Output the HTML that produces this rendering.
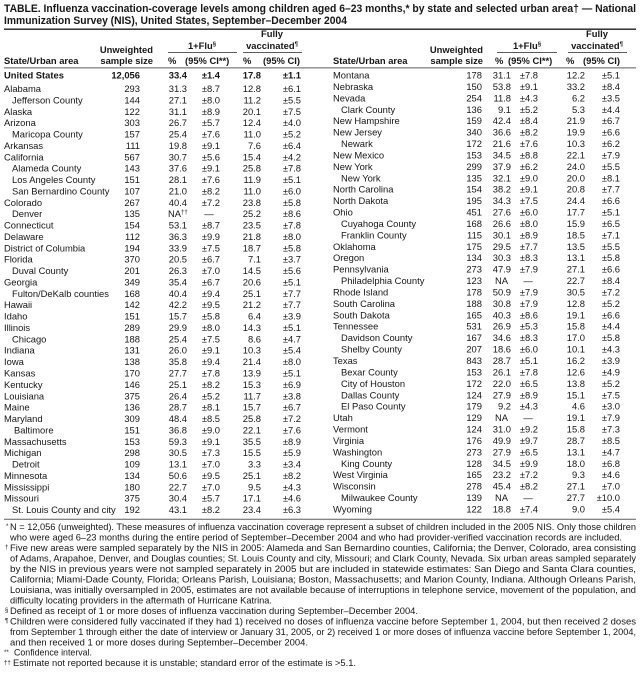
<!DOCTYPE html>
<html><head><meta charset="utf-8"><style>
html,body{margin:0;padding:0;background:#fff}
svg{display:block}
text{font-family:"Liberation Sans",Arial,sans-serif;font-size:9.4px;fill:#161616}
.e{text-anchor:end}.m{text-anchor:middle}
.b{font-weight:bold}
.h{font-weight:bold;font-size:9.4px}
.t{font-weight:bold;font-size:10.6px}
.f{font-size:9.3px}
.s{font-size:6px}
</style></head><body>
<svg width="640" height="674" viewBox="0 0 640 674" xmlns="http://www.w3.org/2000/svg">
<text class="t" x="4" y="12" textLength="632" lengthAdjust="spacingAndGlyphs">TABLE. Influenza vaccination-coverage levels among children aged 6–23 months,* by state and selected urban area† — National</text>
<text class="t" x="4" y="24" textLength="343" lengthAdjust="spacingAndGlyphs">Immunization Survey (NIS), United States, September–December 2004</text>
<rect x="4" y="28.5" width="632" height="1.4" fill="#222"/>

<text class="h m" x="272" y="37">Fully</text>
<text class="h m" x="272" y="49">vaccinated<tspan class="s" dy="-3">¶</tspan></text>
<text class="h m" x="202" y="49">1+Flu<tspan class="s" dy="-3">§</tspan></text>
<rect x="168" y="52" width="69" height="0.8" fill="#333"/>
<rect x="243" y="52" width="59" height="0.8" fill="#333"/>
<text class="h e" x="153" y="53">Unweighted</text>
<text class="h e" x="153" y="64">sample size</text>
<text class="h" x="4" y="64">State/Urban area</text>
<text class="h" x="168" y="64">%</text>
<text class="h" x="185" y="64">(95% CI**)</text>
<text class="h" x="243" y="64">%</text>
<text class="h" x="263" y="64">(95% CI)</text>
<text class="h m" x="597" y="37">Fully</text>
<text class="h m" x="597" y="49">vaccinated<tspan class="s" dy="-3">¶</tspan></text>
<text class="h m" x="527" y="49">1+Flu<tspan class="s" dy="-3">§</tspan></text>
<rect x="497" y="52" width="60" height="0.8" fill="#333"/>
<rect x="568" y="52" width="59" height="0.8" fill="#333"/>
<text class="h e" x="483" y="53">Unweighted</text>
<text class="h e" x="483" y="64">sample size</text>
<text class="h" x="333" y="64">State/Urban area</text>
<text class="h" x="495" y="64">%</text>
<text class="h" x="508" y="64">(95% CI**)</text>
<text class="h" x="566" y="64">%</text>
<text class="h" x="583" y="64">(95% CI)</text>
<rect x="4" y="67.5" width="632" height="0.8" fill="#333"/>

<g class="b"><text class="b" x="4" y="78.5">United States</text><text class="b e" x="140" y="78.5">12,056</text><text class="b e" x="187" y="78.5">33.4</text><text class="b e" x="220" y="78.5">±1.4</text><text class="b e" x="261" y="78.5">17.8</text><text class="b e" x="301" y="78.5">±1.1</text></g>
<g transform="translate(0,92)"><text x="4">Alabama</text><text class="e" x="140">293</text><text class="e" x="187">31.3</text><text class="e" x="220">±8.7</text><text class="e" x="261">12.8</text><text class="e" x="301">±6.1</text></g>
<g transform="translate(0,103.4)"><text x="12">Jefferson County</text><text class="e" x="140">144</text><text class="e" x="187">27.1</text><text class="e" x="220">±8.0</text><text class="e" x="261">11.2</text><text class="e" x="301">±5.5</text></g>
<g transform="translate(0,114.8)"><text x="4">Alaska</text><text class="e" x="140">122</text><text class="e" x="187">31.1</text><text class="e" x="220">±8.9</text><text class="e" x="261">20.1</text><text class="e" x="301">±7.5</text></g>
<g transform="translate(0,126.1)"><text x="4">Arizona</text><text class="e" x="140">303</text><text class="e" x="187">26.7</text><text class="e" x="220">±5.7</text><text class="e" x="261">12.4</text><text class="e" x="301">±4.0</text></g>
<g transform="translate(0,137.5)"><text x="12">Maricopa County</text><text class="e" x="140">157</text><text class="e" x="187">25.4</text><text class="e" x="220">±7.6</text><text class="e" x="261">11.0</text><text class="e" x="301">±5.2</text></g>
<g transform="translate(0,148.9)"><text x="4">Arkansas</text><text class="e" x="140">111</text><text class="e" x="187">19.8</text><text class="e" x="220">±9.1</text><text class="e" x="261">7.6</text><text class="e" x="301">±6.4</text></g>
<g transform="translate(0,160.3)"><text x="4">California</text><text class="e" x="140">567</text><text class="e" x="187">30.7</text><text class="e" x="220">±5.6</text><text class="e" x="261">15.4</text><text class="e" x="301">±4.2</text></g>
<g transform="translate(0,171.7)"><text x="12">Alameda County</text><text class="e" x="140">143</text><text class="e" x="187">37.6</text><text class="e" x="220">±9.1</text><text class="e" x="261">25.8</text><text class="e" x="301">±7.8</text></g>
<g transform="translate(0,183.0)"><text x="12">Los Angeles County</text><text class="e" x="140">151</text><text class="e" x="187">28.1</text><text class="e" x="220">±7.6</text><text class="e" x="261">11.9</text><text class="e" x="301">±5.1</text></g>
<g transform="translate(0,194.4)"><text x="12">San Bernardino County</text><text class="e" x="140">107</text><text class="e" x="187">21.0</text><text class="e" x="220">±8.2</text><text class="e" x="261">11.0</text><text class="e" x="301">±6.0</text></g>
<g transform="translate(0,205.8)"><text x="4">Colorado</text><text class="e" x="140">267</text><text class="e" x="187">40.4</text><text class="e" x="220">±7.2</text><text class="e" x="261">23.8</text><text class="e" x="301">±5.8</text></g>
<g transform="translate(0,217.2)"><text x="12">Denver</text><text class="e" x="140">135</text><text x="168">NA<tspan class="s" dy="-3">††</tspan></text><text class="m" x="209">—</text><text class="e" x="261">25.2</text><text class="e" x="301">±8.6</text></g>
<g transform="translate(0,228.6)"><text x="4">Connecticut</text><text class="e" x="140">154</text><text class="e" x="187">53.1</text><text class="e" x="220">±8.7</text><text class="e" x="261">23.5</text><text class="e" x="301">±7.8</text></g>
<g transform="translate(0,239.9)"><text x="4">Delaware</text><text class="e" x="140">112</text><text class="e" x="187">36.3</text><text class="e" x="220">±9.9</text><text class="e" x="261">21.8</text><text class="e" x="301">±8.0</text></g>
<g transform="translate(0,251.3)"><text x="4">District of Columbia</text><text class="e" x="140">194</text><text class="e" x="187">33.9</text><text class="e" x="220">±7.5</text><text class="e" x="261">18.7</text><text class="e" x="301">±5.8</text></g>
<g transform="translate(0,262.7)"><text x="4">Florida</text><text class="e" x="140">370</text><text class="e" x="187">20.5</text><text class="e" x="220">±6.7</text><text class="e" x="261">7.1</text><text class="e" x="301">±3.7</text></g>
<g transform="translate(0,274.1)"><text x="12">Duval County</text><text class="e" x="140">201</text><text class="e" x="187">26.3</text><text class="e" x="220">±7.0</text><text class="e" x="261">14.5</text><text class="e" x="301">±5.6</text></g>
<g transform="translate(0,285.5)"><text x="4">Georgia</text><text class="e" x="140">349</text><text class="e" x="187">35.4</text><text class="e" x="220">±6.7</text><text class="e" x="261">20.6</text><text class="e" x="301">±5.1</text></g>
<g transform="translate(0,296.8)"><text x="12">Fulton/DeKalb counties</text><text class="e" x="140">168</text><text class="e" x="187">40.4</text><text class="e" x="220">±9.4</text><text class="e" x="261">25.1</text><text class="e" x="301">±7.7</text></g>
<g transform="translate(0,308.2)"><text x="4">Hawaii</text><text class="e" x="140">142</text><text class="e" x="187">42.2</text><text class="e" x="220">±9.5</text><text class="e" x="261">21.2</text><text class="e" x="301">±7.7</text></g>
<g transform="translate(0,319.6)"><text x="4">Idaho</text><text class="e" x="140">151</text><text class="e" x="187">15.7</text><text class="e" x="220">±5.8</text><text class="e" x="261">6.4</text><text class="e" x="301">±3.9</text></g>
<g transform="translate(0,331.0)"><text x="4">Illinois</text><text class="e" x="140">289</text><text class="e" x="187">29.9</text><text class="e" x="220">±8.0</text><text class="e" x="261">14.3</text><text class="e" x="301">±5.1</text></g>
<g transform="translate(0,342.4)"><text x="12">Chicago</text><text class="e" x="140">188</text><text class="e" x="187">25.4</text><text class="e" x="220">±7.5</text><text class="e" x="261">8.6</text><text class="e" x="301">±4.7</text></g>
<g transform="translate(0,353.7)"><text x="4">Indiana</text><text class="e" x="140">131</text><text class="e" x="187">26.0</text><text class="e" x="220">±9.1</text><text class="e" x="261">10.3</text><text class="e" x="301">±5.4</text></g>
<g transform="translate(0,365.1)"><text x="4">Iowa</text><text class="e" x="140">138</text><text class="e" x="187">35.8</text><text class="e" x="220">±9.4</text><text class="e" x="261">21.4</text><text class="e" x="301">±8.0</text></g>
<g transform="translate(0,376.5)"><text x="4">Kansas</text><text class="e" x="140">170</text><text class="e" x="187">27.7</text><text class="e" x="220">±7.8</text><text class="e" x="261">13.9</text><text class="e" x="301">±5.1</text></g>
<g transform="translate(0,387.9)"><text x="4">Kentucky</text><text class="e" x="140">146</text><text class="e" x="187">25.1</text><text class="e" x="220">±8.2</text><text class="e" x="261">15.3</text><text class="e" x="301">±6.9</text></g>
<g transform="translate(0,399.3)"><text x="4">Louisiana</text><text class="e" x="140">375</text><text class="e" x="187">26.4</text><text class="e" x="220">±5.2</text><text class="e" x="261">11.7</text><text class="e" x="301">±3.8</text></g>
<g transform="translate(0,410.6)"><text x="4">Maine</text><text class="e" x="140">136</text><text class="e" x="187">28.7</text><text class="e" x="220">±8.1</text><text class="e" x="261">15.7</text><text class="e" x="301">±6.7</text></g>
<g transform="translate(0,422.0)"><text x="4">Maryland</text><text class="e" x="140">309</text><text class="e" x="187">48.4</text><text class="e" x="220">±8.5</text><text class="e" x="261">25.8</text><text class="e" x="301">±7.2</text></g>
<g transform="translate(0,433.4)"><text x="14">Baltimore</text><text class="e" x="140">151</text><text class="e" x="187">36.8</text><text class="e" x="220">±9.0</text><text class="e" x="261">22.1</text><text class="e" x="301">±7.6</text></g>
<g transform="translate(0,444.8)"><text x="4">Massachusetts</text><text class="e" x="140">153</text><text class="e" x="187">59.3</text><text class="e" x="220">±9.1</text><text class="e" x="261">35.5</text><text class="e" x="301">±8.9</text></g>
<g transform="translate(0,456.2)"><text x="4">Michigan</text><text class="e" x="140">298</text><text class="e" x="187">30.5</text><text class="e" x="220">±7.3</text><text class="e" x="261">15.5</text><text class="e" x="301">±5.9</text></g>
<g transform="translate(0,467.5)"><text x="12">Detroit</text><text class="e" x="140">109</text><text class="e" x="187">13.1</text><text class="e" x="220">±7.0</text><text class="e" x="261">3.3</text><text class="e" x="301">±3.4</text></g>
<g transform="translate(0,478.9)"><text x="4">Minnesota</text><text class="e" x="140">134</text><text class="e" x="187">50.6</text><text class="e" x="220">±9.5</text><text class="e" x="261">25.1</text><text class="e" x="301">±8.2</text></g>
<g transform="translate(0,490.3)"><text x="4">Mississippi</text><text class="e" x="140">180</text><text class="e" x="187">22.7</text><text class="e" x="220">±7.0</text><text class="e" x="261">9.5</text><text class="e" x="301">±4.3</text></g>
<g transform="translate(0,501.7)"><text x="4">Missouri</text><text class="e" x="140">375</text><text class="e" x="187">30.4</text><text class="e" x="220">±5.7</text><text class="e" x="261">17.1</text><text class="e" x="301">±4.6</text></g>
<g transform="translate(0,513.1)"><text x="12">St. Louis County and city</text><text class="e" x="140">192</text><text class="e" x="187">43.1</text><text class="e" x="220">±8.2</text><text class="e" x="261">23.4</text><text class="e" x="301">±6.3</text></g>

<g transform="translate(0,78.5)"><text x="333">Montana</text><text class="e" x="482">178</text><text class="e" x="511">31.1</text><text class="e" x="538">±7.8</text><text class="e" x="585">12.2</text><text class="e" x="620">±5.1</text></g>
<g transform="translate(0,89.9)"><text x="333">Nebraska</text><text class="e" x="482">150</text><text class="e" x="511">53.8</text><text class="e" x="538">±9.1</text><text class="e" x="585">33.2</text><text class="e" x="620">±8.4</text></g>
<g transform="translate(0,101.3)"><text x="333">Nevada</text><text class="e" x="482">254</text><text class="e" x="511">11.8</text><text class="e" x="538">±4.3</text><text class="e" x="585">6.2</text><text class="e" x="620">±3.5</text></g>
<g transform="translate(0,112.8)"><text x="341">Clark County</text><text class="e" x="482">136</text><text class="e" x="511">9.1</text><text class="e" x="538">±5.2</text><text class="e" x="585">5.3</text><text class="e" x="620">±4.4</text></g>
<g transform="translate(0,124.2)"><text x="333">New Hampshire</text><text class="e" x="482">159</text><text class="e" x="511">42.4</text><text class="e" x="538">±8.4</text><text class="e" x="585">21.9</text><text class="e" x="620">±6.7</text></g>
<g transform="translate(0,135.6)"><text x="333">New Jersey</text><text class="e" x="482">340</text><text class="e" x="511">36.6</text><text class="e" x="538">±8.2</text><text class="e" x="585">19.9</text><text class="e" x="620">±6.6</text></g>
<g transform="translate(0,147.0)"><text x="341">Newark</text><text class="e" x="482">172</text><text class="e" x="511">21.6</text><text class="e" x="538">±7.6</text><text class="e" x="585">10.3</text><text class="e" x="620">±6.2</text></g>
<g transform="translate(0,158.4)"><text x="333">New Mexico</text><text class="e" x="482">153</text><text class="e" x="511">34.5</text><text class="e" x="538">±8.8</text><text class="e" x="585">22.1</text><text class="e" x="620">±7.9</text></g>
<g transform="translate(0,169.9)"><text x="333">New York</text><text class="e" x="482">299</text><text class="e" x="511">37.9</text><text class="e" x="538">±6.2</text><text class="e" x="585">24.0</text><text class="e" x="620">±5.5</text></g>
<g transform="translate(0,181.3)"><text x="341">New York</text><text class="e" x="482">135</text><text class="e" x="511">32.1</text><text class="e" x="538">±9.0</text><text class="e" x="585">20.0</text><text class="e" x="620">±8.1</text></g>
<g transform="translate(0,192.7)"><text x="333">North Carolina</text><text class="e" x="482">154</text><text class="e" x="511">38.2</text><text class="e" x="538">±9.1</text><text class="e" x="585">20.8</text><text class="e" x="620">±7.7</text></g>
<g transform="translate(0,204.1)"><text x="333">North Dakota</text><text class="e" x="482">195</text><text class="e" x="511">34.3</text><text class="e" x="538">±7.5</text><text class="e" x="585">24.4</text><text class="e" x="620">±6.6</text></g>
<g transform="translate(0,215.5)"><text x="333">Ohio</text><text class="e" x="482">451</text><text class="e" x="511">27.6</text><text class="e" x="538">±6.0</text><text class="e" x="585">17.7</text><text class="e" x="620">±5.1</text></g>
<g transform="translate(0,226.9)"><text x="341">Cuyahoga County</text><text class="e" x="482">168</text><text class="e" x="511">26.6</text><text class="e" x="538">±8.0</text><text class="e" x="585">15.9</text><text class="e" x="620">±6.5</text></g>
<g transform="translate(0,238.4)"><text x="341">Franklin County</text><text class="e" x="482">115</text><text class="e" x="511">30.1</text><text class="e" x="538">±8.9</text><text class="e" x="585">18.5</text><text class="e" x="620">±7.1</text></g>
<g transform="translate(0,249.8)"><text x="333">Oklahoma</text><text class="e" x="482">175</text><text class="e" x="511">29.5</text><text class="e" x="538">±7.7</text><text class="e" x="585">13.5</text><text class="e" x="620">±5.5</text></g>
<g transform="translate(0,261.2)"><text x="333">Oregon</text><text class="e" x="482">134</text><text class="e" x="511">30.3</text><text class="e" x="538">±8.3</text><text class="e" x="585">13.1</text><text class="e" x="620">±5.8</text></g>
<g transform="translate(0,272.6)"><text x="333">Pennsylvania</text><text class="e" x="482">273</text><text class="e" x="511">47.9</text><text class="e" x="538">±7.9</text><text class="e" x="585">27.1</text><text class="e" x="620">±6.6</text></g>
<g transform="translate(0,284.1)"><text x="341">Philadelphia County</text><text class="e" x="482">123</text><text class="e" x="508">NA</text><text class="m" x="528">—</text><text class="e" x="585">22.7</text><text class="e" x="620">±8.4</text></g>
<g transform="translate(0,295.5)"><text x="333">Rhode Island</text><text class="e" x="482">178</text><text class="e" x="511">50.9</text><text class="e" x="538">±7.9</text><text class="e" x="585">30.5</text><text class="e" x="620">±7.2</text></g>
<g transform="translate(0,306.9)"><text x="333">South Carolina</text><text class="e" x="482">188</text><text class="e" x="511">30.8</text><text class="e" x="538">±7.9</text><text class="e" x="585">12.8</text><text class="e" x="620">±5.2</text></g>
<g transform="translate(0,318.3)"><text x="333">South Dakota</text><text class="e" x="482">165</text><text class="e" x="511">40.3</text><text class="e" x="538">±8.6</text><text class="e" x="585">19.1</text><text class="e" x="620">±6.6</text></g>
<g transform="translate(0,329.7)"><text x="333">Tennessee</text><text class="e" x="482">531</text><text class="e" x="511">26.9</text><text class="e" x="538">±5.3</text><text class="e" x="585">15.8</text><text class="e" x="620">±4.4</text></g>
<g transform="translate(0,341.2)"><text x="341">Davidson County</text><text class="e" x="482">167</text><text class="e" x="511">34.6</text><text class="e" x="538">±8.3</text><text class="e" x="585">17.0</text><text class="e" x="620">±5.8</text></g>
<g transform="translate(0,352.6)"><text x="341">Shelby County</text><text class="e" x="482">207</text><text class="e" x="511">18.6</text><text class="e" x="538">±6.0</text><text class="e" x="585">10.1</text><text class="e" x="620">±4.3</text></g>
<g transform="translate(0,364.0)"><text x="333">Texas</text><text class="e" x="482">843</text><text class="e" x="511">28.7</text><text class="e" x="538">±5.1</text><text class="e" x="585">16.2</text><text class="e" x="620">±3.9</text></g>
<g transform="translate(0,375.4)"><text x="341">Bexar County</text><text class="e" x="482">153</text><text class="e" x="511">26.1</text><text class="e" x="538">±7.8</text><text class="e" x="585">12.6</text><text class="e" x="620">±4.9</text></g>
<g transform="translate(0,386.8)"><text x="341">City of Houston</text><text class="e" x="482">172</text><text class="e" x="511">22.0</text><text class="e" x="538">±6.5</text><text class="e" x="585">13.8</text><text class="e" x="620">±5.2</text></g>
<g transform="translate(0,398.3)"><text x="341">Dallas County</text><text class="e" x="482">124</text><text class="e" x="511">27.9</text><text class="e" x="538">±8.9</text><text class="e" x="585">15.1</text><text class="e" x="620">±7.5</text></g>
<g transform="translate(0,409.7)"><text x="341">El Paso County</text><text class="e" x="482">179</text><text class="e" x="511">9.2</text><text class="e" x="538">±4.3</text><text class="e" x="585">4.6</text><text class="e" x="620">±3.0</text></g>
<g transform="translate(0,421.1)"><text x="333">Utah</text><text class="e" x="482">129</text><text class="e" x="508">NA</text><text class="m" x="528">—</text><text class="e" x="585">19.1</text><text class="e" x="620">±7.9</text></g>
<g transform="translate(0,432.5)"><text x="333">Vermont</text><text class="e" x="482">124</text><text class="e" x="511">31.0</text><text class="e" x="538">±9.2</text><text class="e" x="585">15.8</text><text class="e" x="620">±7.3</text></g>
<g transform="translate(0,443.9)"><text x="333">Virginia</text><text class="e" x="482">176</text><text class="e" x="511">49.9</text><text class="e" x="538">±9.7</text><text class="e" x="585">28.7</text><text class="e" x="620">±8.5</text></g>
<g transform="translate(0,455.4)"><text x="333">Washington</text><text class="e" x="482">273</text><text class="e" x="511">27.9</text><text class="e" x="538">±6.5</text><text class="e" x="585">13.1</text><text class="e" x="620">±4.7</text></g>
<g transform="translate(0,466.8)"><text x="341">King County</text><text class="e" x="482">128</text><text class="e" x="511">34.5</text><text class="e" x="538">±9.9</text><text class="e" x="585">18.0</text><text class="e" x="620">±6.8</text></g>
<g transform="translate(0,478.2)"><text x="333">West Virginia</text><text class="e" x="482">165</text><text class="e" x="511">23.2</text><text class="e" x="538">±7.2</text><text class="e" x="585">9.3</text><text class="e" x="620">±4.6</text></g>
<g transform="translate(0,489.6)"><text x="333">Wisconsin</text><text class="e" x="482">278</text><text class="e" x="511">45.4</text><text class="e" x="538">±8.2</text><text class="e" x="585">27.1</text><text class="e" x="620">±7.0</text></g>
<g transform="translate(0,501.0)"><text x="341">Milwaukee County</text><text class="e" x="482">139</text><text class="e" x="508">NA</text><text class="m" x="528">—</text><text class="e" x="585">27.7</text><text class="e" x="620">±10.0</text></g>
<g transform="translate(0,512.5)"><text x="333">Wyoming</text><text class="e" x="482">122</text><text class="e" x="511">18.8</text><text class="e" x="538">±7.4</text><text class="e" x="585">9.0</text><text class="e" x="620">±5.4</text></g>

<rect x="4" y="518.8" width="632" height="0.8" fill="#333"/>

<g>
<text class="s" x="6" y="528">*</text>
<text class="f" x="10" y="530.2" textLength="626" lengthAdjust="spacingAndGlyphs">N = 12,056 (unweighted). These measures of influenza vaccination coverage represent a subset of children included in the 2005 NIS. Only those children</text>
<text class="f" x="10" y="540.7" textLength="612" lengthAdjust="spacingAndGlyphs">who were aged 6–23 months during the entire period of September–December 2004 and who had provider-verified vaccination records are included.</text>
<text class="s" x="5" y="549">†</text>
<text class="f" x="10" y="551.1" textLength="626" lengthAdjust="spacingAndGlyphs">Five new areas were sampled separately by the NIS in 2005: Alameda and San Bernardino counties, California; the Denver, Colorado, area consisting</text>
<text class="f" x="10" y="561.6" textLength="626" lengthAdjust="spacingAndGlyphs">of Adams, Arapahoe, Denver, and Douglas counties; St. Louis County and city, Missouri; and Clark County, Nevada. Six urban areas sampled separately</text>
<text class="f" x="10" y="572.0" textLength="626" lengthAdjust="spacingAndGlyphs">by the NIS in previous years were not sampled separately in 2005 but are included in statewide estimates: San Diego and Santa Clara counties,</text>
<text class="f" x="10" y="582.5" textLength="626" lengthAdjust="spacingAndGlyphs">California; Miami-Dade County, Florida; Orleans Parish, Louisiana; Boston, Massachusetts; and Marion County, Indiana. Although Orleans Parish,</text>
<text class="f" x="10" y="593.0" textLength="626" lengthAdjust="spacingAndGlyphs">Louisiana, was initially oversampled in 2005, estimates are not available because of interruptions in telephone service, movement of the population, and</text>
<text class="f" x="10" y="603.4" textLength="262" lengthAdjust="spacingAndGlyphs">difficulty locating providers in the aftermath of Hurricane Katrina.</text>
<text class="s" x="5" y="612">§</text>
<text class="f" x="10" y="613.9" textLength="408" lengthAdjust="spacingAndGlyphs">Defined as receipt of 1 or more doses of influenza vaccination during September–December 2004.</text>
<text class="s" x="5" y="622.5">¶</text>
<text class="f" x="10" y="624.3" textLength="626" lengthAdjust="spacingAndGlyphs">Children were considered fully vaccinated if they had 1) received no doses of influenza vaccine before September 1, 2004, but then received 2 doses</text>
<text class="f" x="10" y="634.8" textLength="626" lengthAdjust="spacingAndGlyphs">from September 1 through either the date of interview or January 31, 2005, or 2) received 1 or more doses of influenza vaccine before September 1, 2004,</text>
<text class="f" x="10" y="645.3" textLength="298" lengthAdjust="spacingAndGlyphs">and then received 1 or more doses during September–December 2004.</text>
<text class="s" x="4" y="654">**</text>
<text class="f" x="14" y="655.7" textLength="78" lengthAdjust="spacingAndGlyphs">Confidence interval.</text>
<text class="s" x="4" y="664.5">††</text>
<text class="f" x="13" y="666.2" textLength="343" lengthAdjust="spacingAndGlyphs">Estimate not reported because it is unstable; standard error of the estimate is &gt;5.1.</text>
</g>
</svg>
</body></html>
